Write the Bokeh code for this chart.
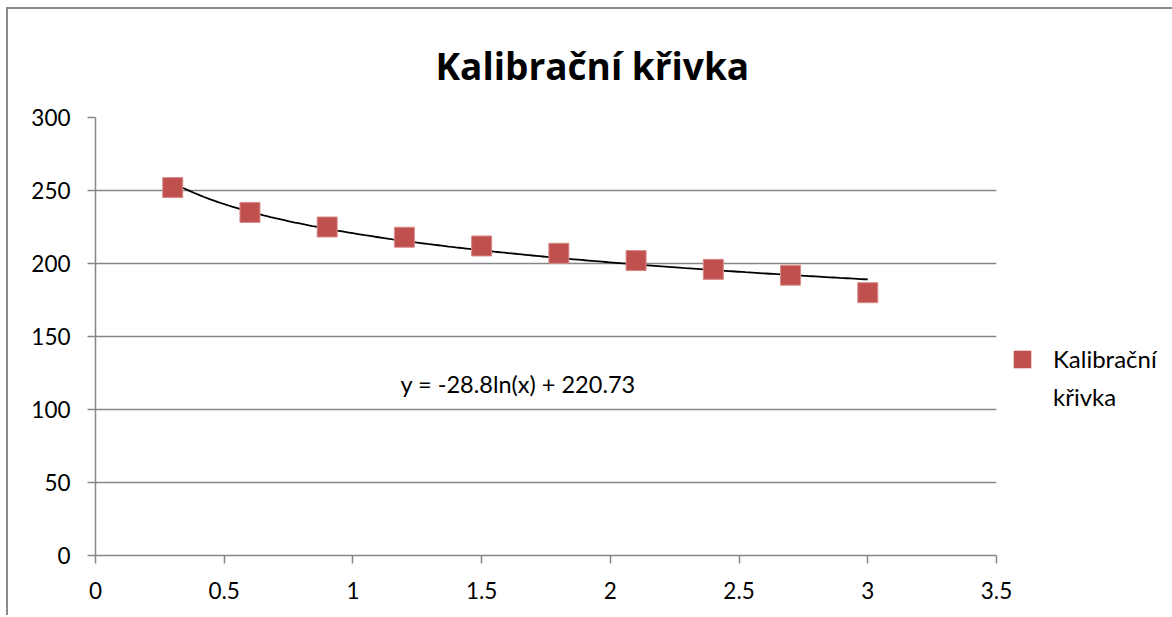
import numpy as np
from bokeh.plotting import figure
from bokeh.models import Range1d, FixedTicker, Label, Legend, LegendItem, ColumnDataSource
from bokeh.embed import file_html
from bokeh.resources import INLINE

# data
conc = [0.3, 0.6, 0.9, 1.2, 1.5, 1.8, 2.1, 2.4, 2.7, 3.0]
signal = [252, 235, 225, 218, 212, 207, 202, 196, 192, 180]
x_ticks = [0, 0.5, 1, 1.5, 2, 2.5, 3, 3.5]
x_tick_labels = ["0", "0.5", "1", "1.5", "2", "2.5", "3", "3.5"]
y_ticks = [0, 50, 100, 150, 200, 250, 300]
y_tick_labels = ["0", "50", "100", "150", "200", "250", "300"]
fit_a = -28.8
fit_b = 220.73
title_text = "Kalibrační křivka"
legend_lines = ["Kalibrační", "křivka"]
eq_text = "y = -28.8ln(x) + 220.73"

FONT = "Lato"
GRID = "#868686"
RED = "#c0504d"

p = figure(width=1160, height=606, output_backend="svg", toolbar_location=None,
           x_range=Range1d(0, 3.5), y_range=Range1d(0, 300),
           min_border_left=87, min_border_right=172, min_border_top=108, min_border_bottom=60,
           frame_width=901, frame_height=438)
p.outline_line_color = None
p.styles = {"margin-left": "6px", "margin-top": "7px",
            "border-left": "2px solid #8a8a8a", "border-top": "2px solid #8a8a8a"}

p.title.text = title_text
p.title.align = "left"
p.title.offset = 340
p.title.standoff = 53
p.title.text_font = "Open Sans"
p.title.text_font_size = "37px"
p.title.text_font_style = "bold"
p.title.text_color = "black"

p.xgrid.grid_line_color = None
p.ygrid.grid_line_color = GRID
p.ygrid.grid_line_width = 1.5
p.ygrid.ticker = FixedTicker(ticks=y_ticks)

for ax in (p.xaxis[0], p.yaxis[0]):
    ax.axis_line_color = GRID
    ax.axis_line_width = 1.5
    ax.major_tick_line_color = GRID
    ax.major_tick_line_width = 1.5
    ax.major_tick_out = 8
    ax.major_tick_in = 0
    ax.minor_tick_line_color = None
    ax.major_label_text_font = FONT
    ax.major_label_text_font_size = "22.5px"
    ax.major_label_text_color = "black"

p.xaxis.ticker = FixedTicker(ticks=x_ticks)
p.yaxis.ticker = FixedTicker(ticks=y_ticks)
p.xaxis.major_label_overrides = {t: l for t, l in zip(x_ticks, x_tick_labels)}
p.yaxis.major_label_overrides = {t: l for t, l in zip(y_ticks, y_tick_labels)}
p.xaxis.major_label_standoff = 18
p.yaxis.major_label_standoff = 17

# trendline from displayed equation
xs = np.linspace(min(conc), max(conc), 200)
p.line(xs, fit_a * np.log(xs) + fit_b, line_color="black", line_width=1.8)

src = ColumnDataSource(dict(x=conc, y=signal))
p.scatter("x", "y", source=src, marker="square", size=20,
          fill_color=RED, line_color="#d88a88", line_width=1)

p.add_layout(Label(x=1.185, y=117.8, text=eq_text, text_font=FONT, text_font_size="23.5px",
                   text_baseline="middle", text_color="black"))

# legend proxies (undrawn NaN rows, used only for the legend swatch)
leg_box = p.quad(left=[np.nan], right=[np.nan], top=[np.nan], bottom=[np.nan],
                 fill_color=RED, line_color=None)
leg_blank = p.quad(left=[np.nan], right=[np.nan], top=[np.nan], bottom=[np.nan],
                   fill_alpha=0, line_alpha=0)

legend = Legend(items=[LegendItem(label=legend_lines[0], renderers=[leg_box]),
                       LegendItem(label=legend_lines[1], renderers=[leg_blank])],
                location=(15, 144), border_line_color=None, background_fill_alpha=0,
                label_text_font=FONT, label_text_font_size="24px", label_text_color="black",
                glyph_width=22, glyph_height=22, label_standoff=20, spacing=9, padding=0)
p.add_layout(legend, "right")

open("out.html", "w").write(file_html(p, INLINE))
